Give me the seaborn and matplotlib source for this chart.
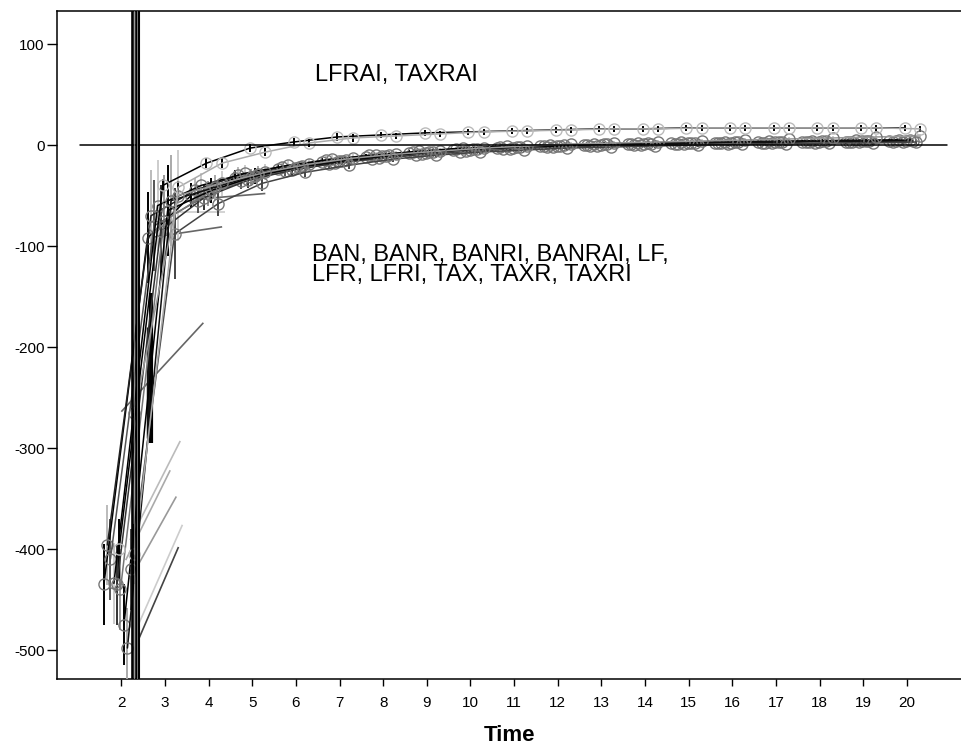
import matplotlib
matplotlib.use("Agg")
import matplotlib.pyplot as plt
import numpy as np
import pandas as pd
import seaborn as sns

# ---------------- data ----------------
times = list(range(2, 21))
x_ticks = list(range(2, 21))
y_ticks = [100, 0, -100, -200, -300, -400, -500]

lower_names = ["BAN", "BANR", "BANRI", "BANRAI", "LF", "LFR", "LFRI", "TAX", "TAXR", "TAXRI"]
upper_names = ["LFRAI", "TAXRAI"]

val_BAN = [-435, -92, -50, -33, -24, -17, -12, -8, -5, -3, -1, 0, 1, 2, 2, 3, 3, 3, 4]
val_BANR = [-396, -70, -45, -30, -22, -15, -10, -7, -4, -2, -1, 0, 1, 1, 2, 2, 3, 3, 3]
val_BANRI = [-410, -80, -55, -36, -26, -19, -14, -10, -7, -4, -2, -1, 0, 1, 2, 2, 3, 3, 4]
val_BANRAI = [-434, -60, -40, -28, -20, -14, -10, -6, -3, -1, 0, 1, 2, 3, 3, 4, 4, 5, 5]
val_LF = [-435, -85, -52, -35, -25, -18, -13, -9, -6, -4, -2, -1, 0, 1, 1, 2, 2, 3, 3]
val_LFR = [-440, -75, -48, -32, -23, -16, -11, -8, -5, -3, -1, 0, 1, 2, 2, 3, 3, 4, 4]
val_LFRI = [-475, -65, -45, -31, -22, -16, -11, -7, -4, -2, -1, 1, 2, 2, 3, 3, 4, 4, 5]
val_TAX = [-498, -55, -42, -29, -21, -15, -10, -7, -4, -2, 0, 1, 1, 2, 3, 3, 4, 4, 4]
val_TAXR = [-420, -88, -58, -38, -27, -20, -14, -10, -7, -5, -3, -2, -1, 0, 1, 1, 2, 2, 3]
val_TAXRI = [-265, -50, -38, -27, -19, -13, -9, -6, -3, -1, 1, 2, 3, 4, 5, 6, 7, 8, 9]
val_LFRAI = [-400, -40, -18, -3, 3, 8, 10, 12, 13, 14, 15, 16, 16, 17, 17, 17, 17, 17, 17]
val_TAXRAI = [-405, -42, -18, -7, 2, 7, 9, 11, 13, 14, 15, 16, 16, 17, 17, 17, 17, 17, 16]

err_lower = [40, 45, 12, 8, 5, 4, 3, 3, 2, 2, 2, 2, 2, 2, 2, 2, 2, 2, 2]
err_upper = [30, 6, 5, 4, 4, 4, 3, 3, 3, 3, 3, 3, 3, 3, 3, 3, 3, 3, 3]

# extra fitted segments seen in the chart (start/end values)
seg_x0 = [2.0, 2.39, 2.39, 2.2, 2.2, 2.1, 2.6, 3.12, 3.63, 3.9, 4.2, 2.68, 2.62]
seg_y0 = [-264, -490, -475, -391, -430, -411, -92, -66, -54, -40, -35, -147, -180]
seg_x1 = [3.88, 3.31, 3.4, 3.35, 3.26, 3.12, 4.31, 4.38, 5.3, 4.8, 5.4, 2.68, 2.62]
seg_y1 = [-176, -398, -376, -293, -348, -322, -81, -66, -48, -37, -30, -295, -290]

vals = {
    "BAN": val_BAN, "BANR": val_BANR, "BANRI": val_BANRI, "BANRAI": val_BANRAI,
    "LF": val_LF, "LFR": val_LFR, "LFRI": val_LFRI, "TAX": val_TAX,
    "TAXR": val_TAXR, "TAXRI": val_TAXRI, "LFRAI": val_LFRAI, "TAXRAI": val_TAXRAI,
}

# ---------------- styles ----------------
dodge = {"BAN": -0.40, "BANR": -0.32, "BANRI": -0.25, "BANRAI": -0.17, "LF": -0.10,
         "LFR": -0.02, "LFRI": 0.06, "TAX": 0.14, "TAXR": 0.22, "TAXRI": 0.30,
         "LFRAI": -0.05, "TAXRAI": 0.30}
palette = {"BAN": "#000000", "BANR": "#222222", "BANRI": "#555555", "BANRAI": "#000000",
           "LF": "#333333", "LFR": "#777777", "LFRI": "#000000", "TAX": "#111111",
           "TAXR": "#444444", "TAXRI": "#999999", "LFRAI": "#000000", "TAXRAI": "#aaaaaa"}
err_palette = {"BAN": "#000000", "BANR": "#bbbbbb", "BANRI": "#555555", "BANRAI": "#cccccc",
               "LF": "#333333", "LFR": "#999999", "LFRI": "#000000", "TAX": "#aaaaaa",
               "TAXR": "#444444", "TAXRI": "#cccccc", "LFRAI": "#000000", "TAXRAI": "#000000"}
seg_colors = ["#666666", "#444444", "#cccccc", "#bbbbbb", "#999999", "#aaaaaa",
              "#666666", "#cccccc", "#666666", "#888888", "#555555", "#000000", "#111111"]
seg_widths = [1.2, 1.2, 1.2, 1.2, 1.2, 1.2, 1.2, 1.2, 1.2, 1.2, 1.2, 3.0, 2.5]

rows = []
for name in lower_names + upper_names:
    errs = err_upper if name in upper_names else err_lower
    for t, v, e in zip(times, vals[name], errs):
        rows.append({"series": name, "time": t, "x": t + dodge[name], "value": v, "err": e})
df = pd.DataFrame(rows)

sns.set_theme(style="white")
plt.rcParams["font.family"] = ["Liberation Sans", "DejaVu Sans"]

fig = plt.figure(figsize=(9.61, 7.48), dpi=100)
ax = fig.add_axes([57.3 / 961, 1 - 679 / 748, 1 - 57.3 / 961, (679 - 10.7) / 748])

# segments
for x0, y0, x1, y1, c, w in zip(seg_x0, seg_y0, seg_x1, seg_y1, seg_colors, seg_widths):
    ax.plot([x0, x1], [y0, y1], color=c, lw=w, zorder=2, solid_capstyle="butt")

# error bars
for name in lower_names + upper_names:
    sub = df[df.series == name]
    ax.vlines(sub["x"], sub["value"] - sub["err"], sub["value"] + sub["err"],
              colors=err_palette[name], lw=1.4, zorder=3)

# lines with open circle markers
sns.lineplot(data=df[df.series.isin(lower_names)], x="x", y="value", hue="series",
             palette=palette, estimator=None, sort=False, units="series",
             marker="o", markersize=8, mfc="none", mec="#777777", mew=1.0,
             lw=1.1, legend=False, ax=ax, zorder=4)
sns.lineplot(data=df[df.series.isin(upper_names)], x="x", y="value", hue="series",
             palette=palette, estimator=None, sort=False, units="series",
             marker="o", markersize=8, mfc="none", mec="#bbbbbb", mew=1.0,
             lw=1.1, legend=False, ax=ax, zorder=4)

# reference lines
ax.plot([1.06, 20.92], [0, 0], color="black", lw=1.1, zorder=5)
for xv, c, w in [(2.235, "black", 1.9), (2.285, "#888888", 0.6), (2.332, "black", 1.9),
                 (2.367, "#888888", 0.6), (2.40, "black", 1.5)]:
    ax.axvline(xv, color=c, lw=w, zorder=6)

# annotations
ax.text(6.437, 69, "LFRAI, TAXRAI", fontsize=17, va="center", ha="left", color="black")
ax.text(6.37, -119, "BAN, BANR, BANRI, BANRAI, LF,\nLFR, LFRI, TAX, TAXR, TAXRI",
        fontsize=17, va="center", ha="left", color="black", linespacing=0.85)

ax.set_xlim(0.533, 21.24)
ax.set_ylim(-528.7, 133)
ax.set_xticks(x_ticks)
ax.set_xticklabels([str(v) for v in x_ticks])
ax.set_yticks(y_ticks)
ax.set_yticklabels([str(v) for v in y_ticks])
ax.tick_params(axis="x", direction="out", length=5, width=1, color="black",
               labelsize=11, pad=7, bottom=True, labelcolor="black")
ax.tick_params(axis="y", direction="out", length=7.5, width=1, color="black",
               labelsize=11, pad=1.5, left=True, labelcolor="black")
ax.set_xlabel("Time", fontsize=16, fontweight="bold", labelpad=11, color="black")
ax.set_ylabel("")
for side in ["left", "top", "bottom"]:
    ax.spines[side].set_visible(True)
    ax.spines[side].set_color("black")
    ax.spines[side].set_linewidth(1.1)
ax.spines["right"].set_visible(False)
ax.grid(False)

fig.savefig("out.png", dpi=100)
